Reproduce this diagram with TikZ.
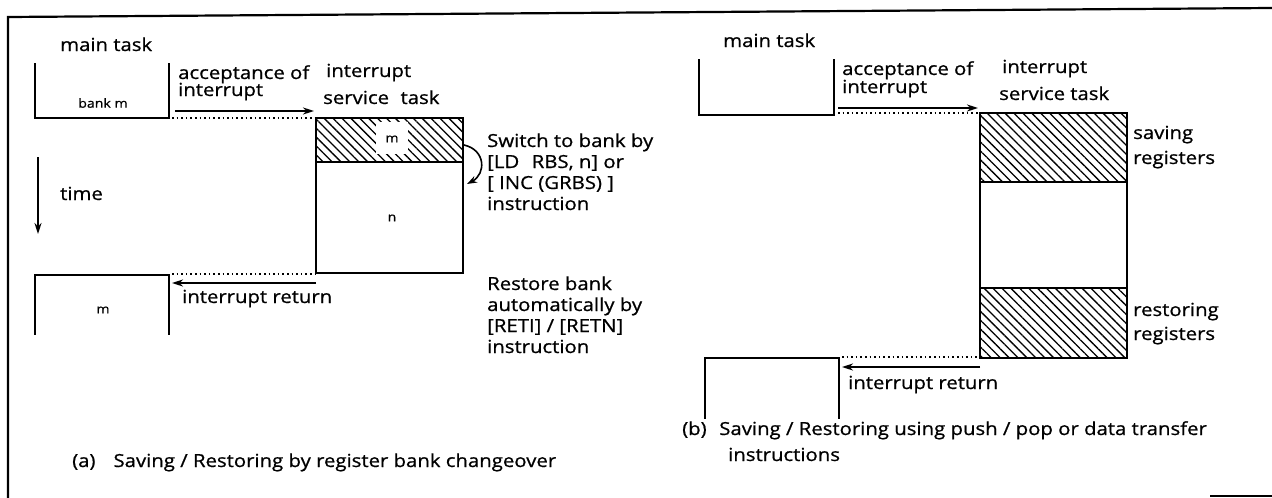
\documentclass[tikz,border=0pt]{standalone}
\usepackage{fontspec}
\setmainfont{Open Sans}[FakeBold=0.8,FakeStretch=1.13]
\usetikzlibrary{arrows.meta,patterns.meta}
\begin{document}
\begin{tikzpicture}[x=1pt,y=-1pt,
 lbl/.style={anchor=base west,inner sep=0pt,font=\fontsize{18}{22}\selectfont},
 small/.style={inner sep=0pt,font=\fontsize{12.5}{15}\selectfont},
 boxline/.style={line width=2.4pt,line cap=rect},
 dotline/.style={line width=1.8pt,dash pattern=on 1.6pt off 3pt},
 arr/.style={line width=2pt,-{Stealth[length=11pt,width=7pt]}},
 hatch/.style={pattern={Lines[angle=-45,distance=6.3pt,line width=1.3pt]}}
]
\useasboundingbox (0,0) rectangle (1272,498);
% frame
\coordinate (fTL) at (8,17);
\coordinate (fTR) at (1272,8);
\coordinate (fBL) at (8,498);
\draw[line width=2.2pt] (fBL) -- (fTL) -- (fTR);
\coordinate (fb1) at (1210,496);
\coordinate (fb2) at (1272,496);
\draw[line width=2.2pt] (fb1) -- (fb2);

%================ (a) =================
\node[lbl] (amain) at (60,51) {main task};
\draw[boxline] (35,64) -- (35,118) -- (169,118) -- (169,64);
\node[small] (abankm) at (103,103) {bank m};

\node[lbl] (aacc1) at (178,79) {acceptance of};
\node[lbl] (aacc2) at (178,96) {interrupt};
\node[lbl] (aint1) at (326,77) {interrupt};
\node[lbl] (aint2) at (323,104) {service\hspace{0.35em} task};

% service task box (a)
\fill[hatch] (316,118) rectangle (463,162);
\fill[white] (376,122) rectangle (408,154);
\draw[boxline] (316,118) rectangle (463,273);
\draw[boxline] (316,162) -- (463,162);
\node[small] (asm) at (392,139) {m};
\node[small] (asn) at (392,218) {n};

\coordinate (aA1) at (175,111);
\coordinate (aA2) at (314,111);
\draw[arr] (aA1) -- (aA2);
\coordinate (aD1) at (172,118);
\coordinate (aD2) at (316,118);
\draw[dotline] (aD1) -- (aD2);

% switch arrow
\coordinate (aS1) at (464,145);
\coordinate (aS2) at (467,184);
\draw[line width=1.6pt,-{Stealth[length=10pt,width=7pt]}] (aS1) .. controls (486,150) and (486,174) .. (aS2);

\node[lbl] (asw1) at (487,147) {Switch to bank by};
\node[lbl] (asw2) at (487,168) {[LD\hspace{0.4em} RBS, n] or};
\node[lbl] (asw3) at (487,189) {[ INC (GRBS) ]};
\node[lbl] (asw4) at (487,210) {instruction};

% time
\coordinate (aT1) at (38,157);
\coordinate (aT2) at (38,234);
\draw[arr,line width=1.8pt] (aT1) -- (aT2);
\node[lbl] (atime) at (60,200) {time};

% lower main task (a)
\draw[boxline] (35,334) -- (35,275) -- (169,275) -- (169,334);
\node[small] (alm) at (103,310) {m};
\coordinate (aR1) at (316,283);
\coordinate (aR2) at (172,283);
\draw[arr] (aR1) -- (aR2);
\coordinate (aE1) at (172,274);
\coordinate (aE2) at (316,274);
\draw[dotline] (aE1) -- (aE2);
\node[lbl] (aret) at (182,303) {interrupt return};

\node[lbl] (ars1) at (487,290) {Restore bank};
\node[lbl] (ars2) at (487,311) {automatically by};
\node[lbl] (ars3) at (487,332) {[RETI] / [RETN]};
\node[lbl] (ars4) at (487,353) {instruction};

\node[lbl] (acap) at (72,467) {(a)\hspace{1em}Saving / Restoring by register bank changeover};

%================ (b) =================
\node[lbl] (bmain) at (723,47) {main task};
\draw[boxline] (699,60) -- (699,115) -- (834,115) -- (834,60);

\node[lbl] (bacc1) at (842,75) {acceptance of};
\node[lbl] (bacc2) at (842,93) {interrupt};
\node[lbl] (bint1) at (1002,73) {interrupt};
\node[lbl] (bint2) at (999,100) {service task};

\fill[hatch] (980,113) rectangle (1127,182);
\fill[hatch] (980,288) rectangle (1127,358);
\draw[boxline] (980,113) rectangle (1127,358);
\draw[boxline] (980,182) -- (1127,182);
\draw[boxline] (980,288) -- (1127,288);

\coordinate (bA1) at (838,108);
\coordinate (bA2) at (978,108);
\draw[arr] (bA1) -- (bA2);
\coordinate (bD1) at (838,113);
\coordinate (bD2) at (980,113);
\draw[dotline] (bD1) -- (bD2);

\node[lbl] (bsv1) at (1133,139) {saving};
\node[lbl] (bsv2) at (1133,164) {registers};
\node[lbl] (brs1) at (1133,316) {restoring};
\node[lbl] (brs2) at (1133,340) {registers};

\draw[boxline] (705,418) -- (705,358) -- (839,358) -- (839,418);
\coordinate (bR1) at (980,367);
\coordinate (bR2) at (842,367);
\draw[arr] (bR1) -- (bR2);
\coordinate (bE1) at (842,357);
\coordinate (bE2) at (980,357);
\draw[dotline] (bE1) -- (bE2);
\node[lbl] (bret) at (848,389) {interrupt return};

\node[lbl] (bcap1) at (682,435) {(b)\hspace{0.7em}Saving / Restoring using push / pop or data transfer};
\node[lbl] (bcap2) at (728,461) {instructions};
\end{tikzpicture}
\end{document}
